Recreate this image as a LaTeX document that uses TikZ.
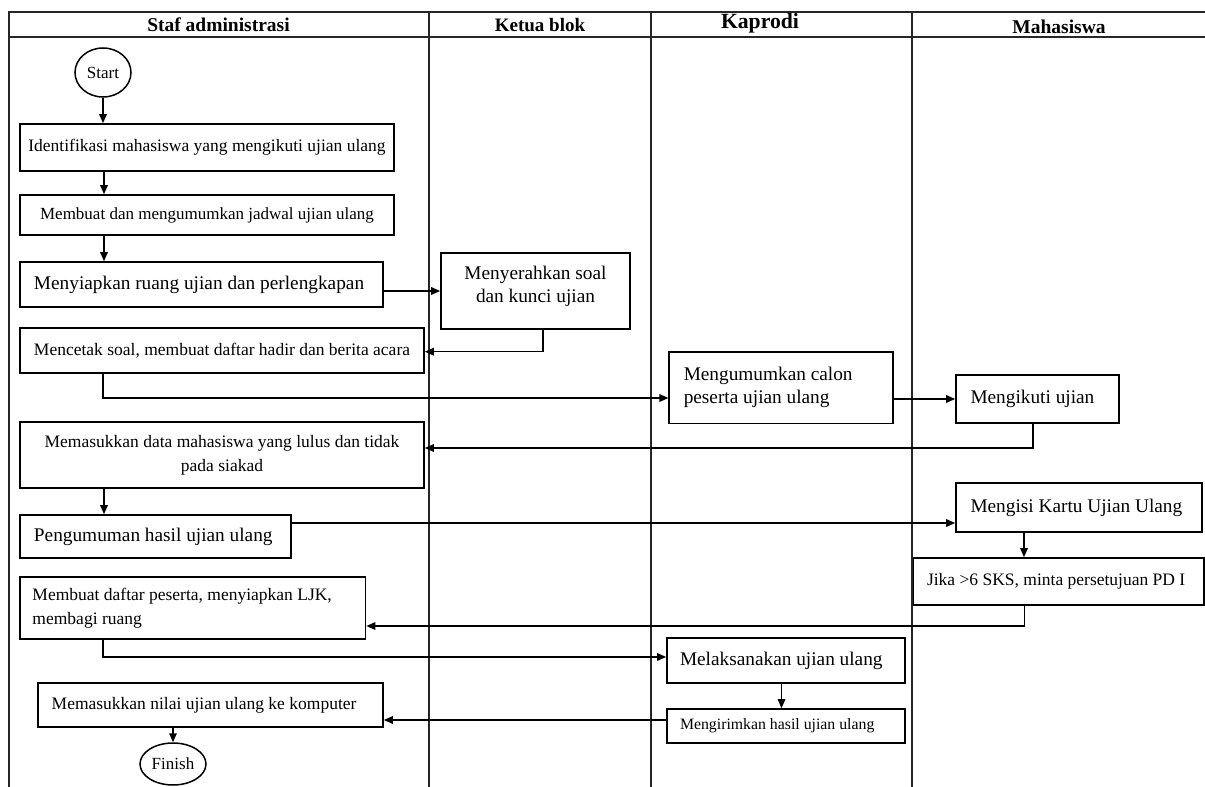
\documentclass[tikz,border=0pt]{standalone}
\usepackage{fontspec}
\setmainfont{Liberation Serif}
\usetikzlibrary{arrows.meta,shapes.geometric}
\newcommand\fA{\fontsize{17.5bp}{24bp}\selectfont}
\newcommand\fAa{\fontsize{17bp}{24bp}\selectfont}
\newcommand\fB{\fontsize{19.3bp}{23bp}\selectfont}
\newcommand\fC{\fontsize{15.8bp}{20bp}\selectfont}
\newcommand\fH{\fontsize{19.5bp}{22bp}\selectfont}
\newcommand\fHk{\fontsize{21.7bp}{24bp}\selectfont}
\newcommand\fT{\fontsize{17bp}{20bp}\selectfont}
\newcommand\nsp{\spaceskip=0pt\xspaceskip=0pt\relax}
\begin{document}
\begin{tikzpicture}[x=1bp,y=-1bp,
  box/.style={draw, line width=1.6bp, inner sep=0pt, align=center},
  lb/.style={inner xsep=#1bp, align=left},
  oval/.style={ellipse, draw, line width=1.5bp, inner sep=0pt, minimum width=56bp, minimum height=49bp},
  arr/.style={line width=1.5bp, -{Triangle[length=9bp,width=7.5bp]}},
  grid/.style={line width=1.8bp, draw=black!85},
  hd/.style={font=\fH\bfseries, inner sep=0pt}]
\useasboundingbox (0,0) rectangle (1205,787);
% swimlane table
\draw[grid] (8.8,787) -- (8.8,12.3) -- (1205,12.3);
\draw[grid] (8.8,37.3) -- (1205,37.3);
\draw[grid] (428.6,12.3) -- (428.6,787);
\draw[grid] (651,12.3) -- (651,787);
\draw[grid] (912,12.3) -- (912,787);
% headers
\node[hd] (h1) at (218.5,25) {Staf administrasi};
\node[hd, font=\fontsize{19bp}{22bp}\selectfont\bfseries] (h2) at (540,25.5) {Ketua blok};
\node[hd, font=\fHk\bfseries] (h3) at (760,23) {Kaprodi};
\node[hd] (h4) at (1059,26.5) {Mahasiswa};
% nodes
\node[oval, font=\fT] (start) at (103,72.5) {Start};
\node[box, font=\fA, minimum width=374bp, minimum height=47bp] (n1) at (207,147.5) {Identifikasi mahasiswa yang mengikuti ujian ulang};
\node[box, font=\fAa, minimum width=374bp, minimum height=40bp] (n2) at (207,215) {Membuat dan mengumumkan jadwal ujian ulang};
\node[box, lb=14, font=\fB, text width=335bp, minimum height=45bp] (n3) at (201.5,284.5) {\nsp\mbox{Menyiapkan ruang ujian dan perlengkapan}};
\node[box, minimum width=189bp, minimum height=76bp,
  label={[yshift=5bp, align=center, font=\fB]center:Menyerahkan soal\\dan kunci ujian}] (n4) at (535.5,291) {};
\node[box, font=\fA, minimum width=404bp, minimum height=45bp] (n5) at (222,350.5) {Mencetak soal, membuat daftar hadir dan berita acara};
\node[box, lb=14.5, font=\fB, text width=194.5bp, minimum height=71.6bp] (n6) at (781,387.5) {\nsp Mengumumkan calon\\peserta ujian ulang};
\node[box, lb=14.5, font=\fB, text width=134bp, minimum height=48bp] (n7) at (1037.5,399) {\nsp\mbox{Mengikuti ujian}};
\node[box, font=\fA, minimum width=404bp, minimum height=66bp] (n8) at (222,455) {Memasukkan data mahasiswa yang lulus dan tidak\\pada siakad};
\node[box, lb=14, font=\fB, text width=243bp, minimum height=43bp] (n9) at (155.5,536.5) {\nsp\mbox{Pengumuman hasil ujian ulang}};
\node[box, lb=14.5, font=\fB, text width=217bp, minimum height=49bp] (n10) at (1079,507.5) {\nsp\mbox{Mengisi Kartu Ujian Ulang}};
\node[box, lb=13.5, font=\fA, text width=263.5bp, minimum height=47bp] (n11) at (1058.75,581.5) {\nsp\mbox{Jika >6 SKS, minta persetujuan PD I}};
\node[box, lb=12.5, font=\fA, text width=320.5bp, minimum height=62bp] (n12) at (192.75,608) {\nsp Membuat daftar peserta, menyiapkan LJK,\\membagi ruang};
\node[box, lb=13, font=\fB, text width=212bp, minimum height=45bp] (n13) at (786,660.5) {\nsp\mbox{Melaksanakan ujian ulang}};
\node[box, lb=13, font=\fC, text width=212bp, minimum height=34bp] (n14) at (786,726) {\nsp\mbox{Mengirimkan hasil ujian ulang}};
\node[box, lb=13.7, font=\fA, text width=317.6bp, minimum height=44bp] (n15) at (210.5,705) {\nsp\mbox{Memasukkan nilai ujian ulang ke komputer}};
\node[oval, font=\fT, minimum width=66bp, minimum height=42bp] (finish) at (173,764) {Finish};
% routing coordinates
\coordinate (xL) at (104,0);
\coordinate (xR) at (1024,0);
\coordinate (k1) at (543,351.7);
\coordinate (k2) at (103,398);
\coordinate (k3) at (1033,448);
\coordinate (k4) at (0,523);
\coordinate (k5) at (1024.7,626);
\coordinate (k6) at (103,657);
\coordinate (k7) at (781.5,0);
\coordinate (k8) at (0,720);
% connectors
\draw[arr] (start.south) -- (start.south |- n1.north);
\draw[arr] (n1.south -| xL) -- (n2.north -| xL);
\draw[arr] (n2.south -| xL) -- (n3.north -| xL);
\draw[arr] (n3.east |- n4.west) -- (n4.west);
\draw[arr] (n4.south -| k1) -- (k1) -- (n5.east |- k1);
\draw[arr] (n5.south -| k2) -- (k2) -- (n6.west |- k2);
\draw[arr] (n6.east |- n7.west) -- (n7.west);
\draw[arr] (n7.south -| k3) -- (k3) -- (n8.east |- k3);
\draw[arr] (n8.south -| xL) -- (n9.north -| xL);
\draw[arr] (n9.east |- k4) -- (n10.west |- k4);
\draw[arr] (n10.south -| xR) -- (n11.north -| xR);
\draw[arr] (n11.south -| k5) -- (k5) -- (n12.east |- k5);
\draw[arr] (n12.south -| k6) -- (k6) -- (n13.west |- k6);
\draw[arr] (n13.south -| k7) -- (n14.north -| k7);
\draw[arr] (n14.west |- k8) -- (n15.east |- k8);
\draw[arr] (n15.south -| finish.north) -- (finish.north);
\end{tikzpicture}
\end{document}
